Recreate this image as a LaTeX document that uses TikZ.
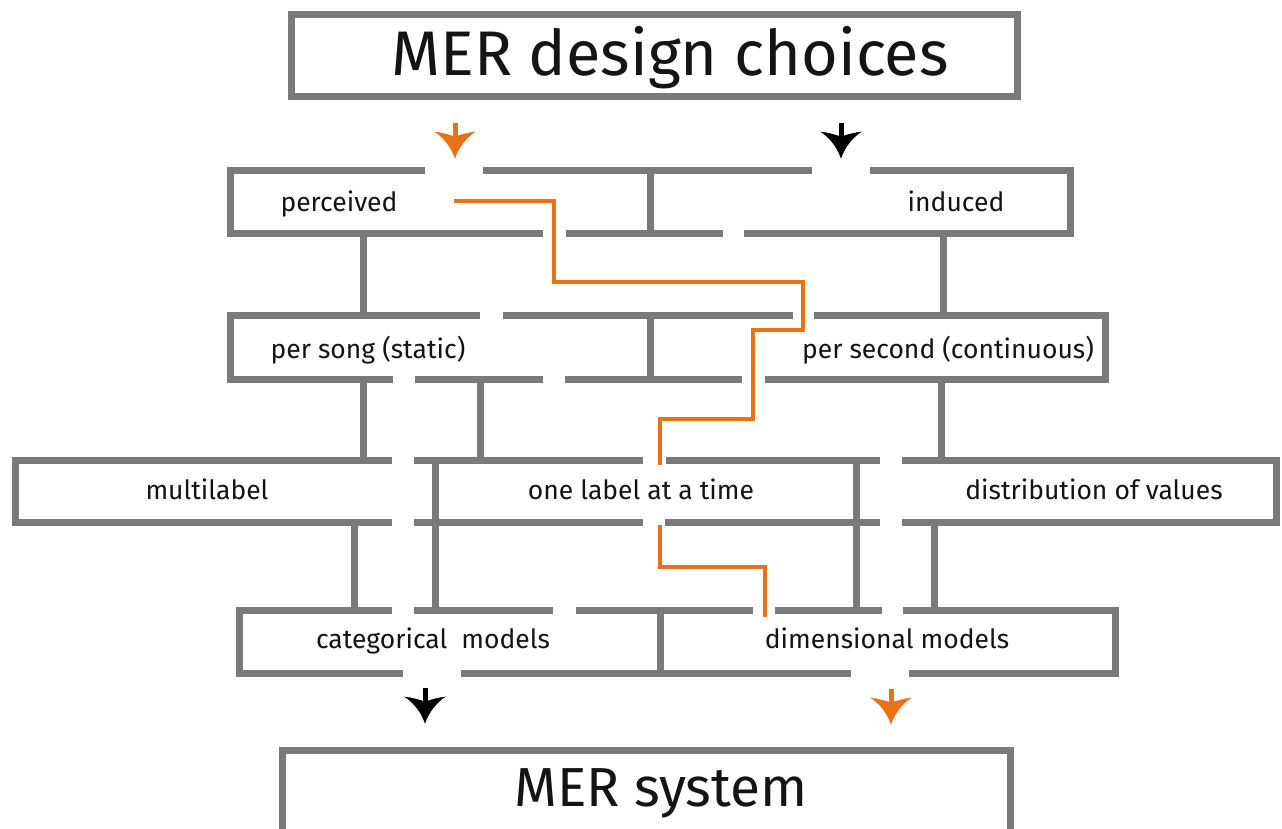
\documentclass[tikz,border=0pt]{standalone}
\usepackage{fontspec}
\setmainfont{Fira Sans}
\definecolor{mazegray}{RGB}{122,122,122}
\definecolor{pathorange}{RGB}{234,114,22}
\definecolor{txt}{RGB}{20,20,20}
\begin{document}
\begin{tikzpicture}[x=1pt,y=-1pt,
  wall/.style={draw=mazegray,line width=7pt,line cap=butt,line join=miter},
  route/.style={draw=pathorange,line width=4pt,line cap=butt,line join=miter},
  lbl/.style={anchor=base,inner sep=0pt,text=txt,font=\fontsize{26.5}{30}\selectfont},
  big/.style={anchor=base,inner sep=0pt,text=txt,font=\fontsize{63}{70}\selectfont},
  darr/.pic={
    \fill[pic actions] (0,0) .. controls (-4,-12) and (-13,-22) .. (-20,-26)
      .. controls (-12,-25) and (-5,-23) .. (0,-21)
      .. controls (5,-23) and (12,-25) .. (20,-26)
      .. controls (13,-22) and (4,-12) .. (0,0) -- cycle;
    \draw[pic actions,line width=5pt] (0,-19) -- (0,-35);
  }]
\useasboundingbox (0,0) rectangle (1282,828);
\fill[white] (0,0) rectangle (1282,828);

% top box
\draw[wall] (291,14) rectangle (1017,96);
\node[big] (title) at (670,75) {MER design choices};

% arrows into maze
\coordinate (inO) at (455,158);
\coordinate (inB) at (841,158);
\pic[fill=pathorange,draw=pathorange] at (inO) {darr};
\pic[fill=black,draw=black] at (inB) {darr};

% row 1
\draw[wall] (425,170) -- (230,170) -- (230,233) -- (543,233);
\draw[wall] (483,170) -- (812,170);
\draw[wall] (870,170) -- (1070,170) -- (1070,233) -- (744,233);
\draw[wall] (566,233) -- (723,233);
\draw[wall] (650,170) -- (650,233);
\draw[wall] (363,233) -- (363,315);
\draw[wall] (943,233) -- (943,315);
\node[lbl] (perceived) at (339,211) {perceived};
\node[lbl] (induced) at (956,211) {induced};

% row 2
\draw[wall] (480,315) -- (230,315) -- (230,379) -- (393,379);
\draw[wall] (503,315) -- (793,315);
\draw[wall] (814,315) -- (1105,315) -- (1105,379) -- (765,379);
\draw[wall] (415,379) -- (543,379);
\draw[wall] (565,379) -- (742,379);
\draw[wall] (650,315) -- (650,379);
\draw[wall] (363,379) -- (363,460);
\draw[wall] (480,379) -- (480,460);
\draw[wall] (941,379) -- (941,460);
\node[lbl] (static) at (368,358) {per song (static)};
\node[lbl] (cont) at (948,358) {per second (continuous)};

% row 3
\draw[wall] (392,460) -- (15,460) -- (15,522) -- (392,522);
\draw[wall] (414,460) -- (643,460);
\draw[wall] (414,522) -- (643,522);
\draw[wall] (666,460) -- (880,460);
\draw[wall] (665,522) -- (880,522);
\draw[wall] (902,460) -- (1276,460) -- (1276,522) -- (902,522);
\draw[wall] (435,460) -- (435,610);
\draw[wall] (856,460) -- (856,610);
\draw[wall] (354,522) -- (354,610);
\draw[wall] (934,522) -- (934,610);
\node[lbl] (multi) at (207,499) {multilabel};
\node[lbl] (one) at (641,499) {one label at a time};
\node[lbl] (distr) at (1094,499) {distribution of values};

% row 4
\draw[wall] (392,610) -- (239,610) -- (239,673) -- (403,673);
\draw[wall] (414,610) -- (553,610);
\draw[wall] (576,610) -- (753,610);
\draw[wall] (775,610) -- (882,610);
\draw[wall] (903,610) -- (1115,610) -- (1115,673) -- (909,673);
\draw[wall] (461,673) -- (851,673);
\draw[wall] (660,610) -- (660,673);
\node[lbl] (cat) at (433,648) {categorical\ \ models};
\node[lbl] (dim) at (887,648) {dimensional models};

% arrows out of maze
\coordinate (outB) at (425,723);
\coordinate (outO) at (891,724);
\pic[fill=black,draw=black] at (outB) {darr};
\pic[fill=pathorange,draw=pathorange] at (outO) {darr};

% bottom box
\draw[wall] (282,835) -- (282,750) -- (1010,750) -- (1010,835);
\node[big,font=\fontsize{55}{60}\selectfont] (sys) at (661,806) {MER system};

% orange route
\coordinate (r0) at (454,201);
\coordinate (r1) at (660,465);
\coordinate (r2) at (660,525);
\coordinate (r3) at (765,617);
\draw[route] (r0) -- (554,201) -- (554,282) -- (803,282) -- (803,330)
  -- (753,330) -- (753,419) -- (660,419) -- (r1);
\draw[route] (r2) -- (660,567) -- (765,567) -- (r3);
\end{tikzpicture}
\end{document}
